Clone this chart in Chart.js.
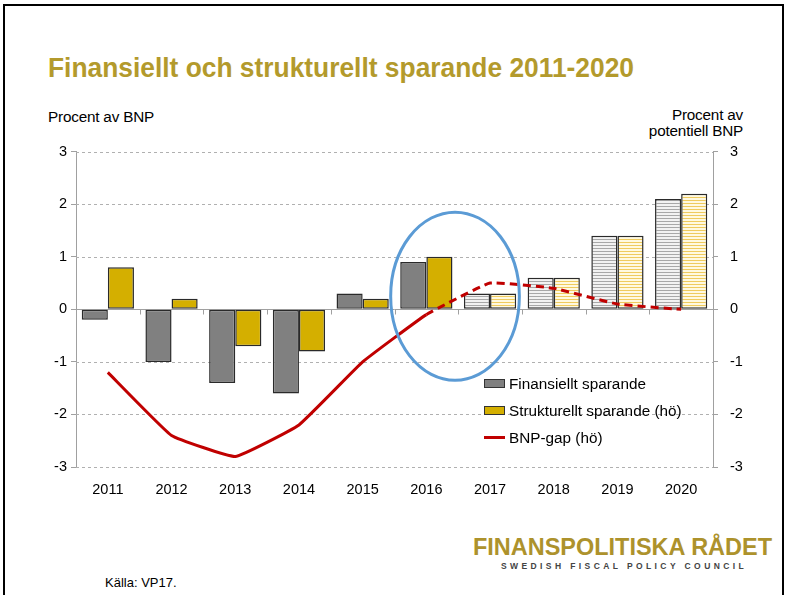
<!DOCTYPE html>
<html><head><meta charset="utf-8">
<script src="https://cdn.jsdelivr.net/npm/chart.js@4/dist/chart.umd.min.js"></script>
<style>
body{margin:0;width:786px;height:595px;overflow:hidden;background:#fff;font-family:"Liberation Sans",Arial,sans-serif;position:relative}
#frame{position:absolute;left:3px;top:4px;width:777px;height:620px;border:2px solid #000;}
.abs{position:absolute;white-space:nowrap}
#title{left:48px;top:52px;font-weight:bold;font-size:28px;color:#B39A2C;transform-origin:left top}
#ylab{left:48px;top:108px;font-size:15.3px;color:#000;letter-spacing:-0.2px}
#y1lab{left:593px;width:150px;top:107px;font-size:15.3px;color:#000;text-align:right;line-height:16px;letter-spacing:-0.2px}
#wrap{position:absolute;left:0;top:131px;width:786px;height:374px}
#legend{left:484px;top:370px;font-size:15.3px;color:#000}
#legend div{height:27px;display:flex;align-items:center}
.sw{width:19px;height:7px;border:1px solid #333;margin-right:4px}
.ln{width:21px;height:3px;background:#C00000;margin-right:4px}
#logo{left:473px;top:533px;font-weight:bold;font-size:24px;color:#AD922C;transform-origin:left top}
#sub{left:501px;top:561px;font-weight:bold;font-size:8.5px;color:#444;letter-spacing:3.4px}
#src{left:105px;top:575px;font-size:13px;color:#000}
</style></head>
<body>
<div id="frame"></div>
<div class="abs" id="title">Finansiellt och strukturellt sparande 2011-2020</div>
<div class="abs" id="ylab">Procent av BNP</div>
<div class="abs" id="y1lab">Procent av<br>potentiell BNP</div>
<div id="wrap"><canvas id="c"></canvas></div>
<div class="abs" id="legend">
  <div><span class="sw" style="background:#808080"></span>Finansiellt sparande</div>
  <div><span class="sw" style="background:#D4AF00"></span>Strukturellt sparande (hö)</div>
  <div><span class="ln"></span>BNP-gap (hö)</div>
</div>
<div class="abs" id="logo">FINANSPOLITISKA RÅDET</div>
<div class="abs" id="sub">SWEDISH FISCAL POLICY COUNCIL</div>
<div class="abs" id="src">Källa: VP17.</div>
<script>
// ---- data ----
const years = ["2011","2012","2013","2014","2015","2016","2017","2018","2019","2020"];
const finansiellt = [-0.2,-1.0,-1.4,-1.6,0.3,0.9,0.3,0.6,1.4,2.1];
const strukturellt = [0.8,0.2,-0.7,-0.8,0.2,1.0,0.3,0.6,1.4,2.2];
const bnpGap = [-1.2,-2.4,-2.8,-2.2,-1.0,-0.1,0.5,0.4,0.1,0.0];
const yTicks = [-3,-2,-1,0,1,2,3];
const forecastStart = 6; // index of 2017 (hatched bars)
const lineDashFrom = 5;  // dashed from 2016 onward
// circled region (annotation), in data units
const ellipse = {x: 5.45, y: 0.25, rx: 1.01, ry: 1.6};

function fitWidth(id, w){const el=document.getElementById(id);const s=w/el.getBoundingClientRect().width;el.style.transform='scaleX('+s+')';}
fitWidth('title',586);
fitWidth('logo',299);

function stripes(fg,bg){
  const c=document.createElement('canvas');c.width=4;c.height=3;
  const x=c.getContext('2d');x.fillStyle=bg;x.fillRect(0,0,4,3);x.fillStyle=fg;x.fillRect(0,0,4,1);
  return x.createPattern(c,'repeat');
}
const grayHatch=stripes('#a8a8a8','#f2f2f2');
const yelHatch=stripes('#EFCB5E','#fff9e0');

const gridPlugin={
  id:'grid',
  beforeDatasetsDraw(chart){
    const {ctx,chartArea:a,scales}=chart;const y=scales.y,x=scales.x;
    ctx.save();
    ctx.strokeStyle='#b0b0b0';ctx.lineWidth=1;ctx.setLineDash([3,3]);
    yTicks.forEach(v=>{if(v===0)return;const p=Math.round(y.getPixelForValue(v))+0.5;ctx.beginPath();ctx.moveTo(a.left,p);ctx.lineTo(a.right,p);ctx.stroke();});
    ctx.setLineDash([]);ctx.strokeStyle='#a0a0a0';
    const z=Math.round(y.getPixelForValue(0))+0.5;
    ctx.beginPath();ctx.moveTo(a.left,z);ctx.lineTo(a.right,z);ctx.stroke();
    for(let i=1;i<years.length;i++){const px=Math.round((x.getPixelForValue(i-1)+x.getPixelForValue(i))/2)+0.5;ctx.beginPath();ctx.moveTo(px,z);ctx.lineTo(px,z+5);ctx.stroke();}
    ctx.restore();
  },
  afterDatasetsDraw(chart){
    const {ctx,scales}=chart;const x=scales.x,y=scales.y;
    const step=x.getPixelForValue(1)-x.getPixelForValue(0);
    const cx=x.getPixelForValue(0)+ellipse.x*step, cy=y.getPixelForValue(ellipse.y);
    const rx=ellipse.rx*step, ry=Math.abs(y.getPixelForValue(ellipse.ry)-y.getPixelForValue(0));
    ctx.save();ctx.strokeStyle='#5B9BD5';ctx.lineWidth=3;ctx.beginPath();ctx.ellipse(cx,cy,rx,ry,0,0,Math.PI*2);ctx.stroke();ctx.restore();
  }
};

const tickFont={family:'"Liberation Sans",Arial,sans-serif',size:14.5};
new Chart(document.getElementById('c'),{
  data:{labels:years,datasets:[
    {type:'line',label:'BNP-gap (hö)',data:bnpGap,yAxisID:'y1',borderColor:'#C00000',borderWidth:3,pointRadius:0,tension:0.1,
     segment:{borderDash:c=>c.p0DataIndex>=lineDashFrom?[8,5]:undefined},order:0},
    {type:'bar',label:'Finansiellt sparande',data:finansiellt,yAxisID:'y',
     backgroundColor:c=>c.dataIndex>=forecastStart?grayHatch:'#808080',borderColor:'#2a2a2a',borderWidth:1.5,borderSkipped:false,order:1},
    {type:'bar',label:'Strukturellt sparande (hö)',data:strukturellt,yAxisID:'y',
     backgroundColor:c=>c.dataIndex>=forecastStart?yelHatch:'#D4AF00',borderColor:'#2a2a2a',borderWidth:1.5,borderSkipped:false,order:1}
  ]},
  options:{
    responsive:true,maintainAspectRatio:false,animation:false,
    layout:{padding:{top:2,bottom:0,left:0,right:0}},
    datasets:{bar:{categoryPercentage:0.82,barPercentage:1}},
    plugins:{legend:{display:false},tooltip:{enabled:false}},
    scales:{
      x:{grid:{display:false},border:{display:false},ticks:{color:'#000',font:tickFont,padding:6,maxRotation:0},
         afterFit(s){s.height=38;}},
      y:{position:'left',min:-3,max:3,grid:{drawOnChartArea:false,tickLength:5,color:'#a0a0a0'},border:{color:'#a0a0a0'},
         ticks:{stepSize:1,color:'#000',font:tickFont,padding:4},afterFit(s){s.width=76;}},
      y1:{position:'right',min:-3,max:3,grid:{drawOnChartArea:false,tickLength:5,color:'#a0a0a0'},border:{color:'#a0a0a0'},
         ticks:{stepSize:1,color:'#000',font:tickFont,padding:12},afterFit(s){s.width=73;}}
    }
  },
  plugins:[gridPlugin]
});
</script>
</body></html>
